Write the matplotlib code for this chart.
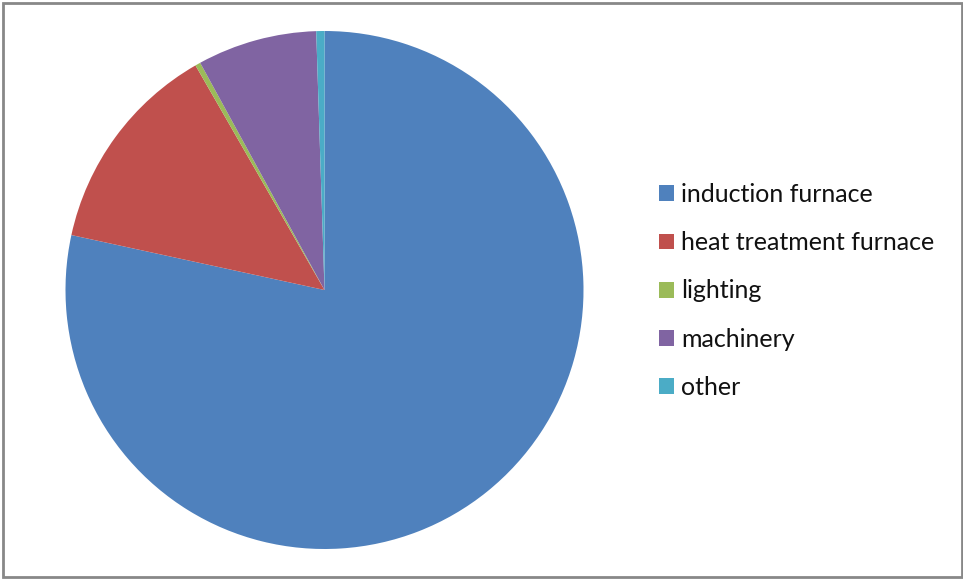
import matplotlib
matplotlib.use("Agg")
import matplotlib.pyplot as plt
from matplotlib.patches import Rectangle

categories = ["induction furnace", "heat treatment furnace", "lighting", "machinery", "other"]
values = [78.41, 13.30, 0.33, 7.46, 0.51]
colors = ["#4F81BD", "#C0504D", "#9BBB59", "#8064A2", "#4BACC6"]

W, H = 963, 579
fig = plt.figure(figsize=(W / 100, H / 100), dpi=100)
fig.patch.set_facecolor("white")

cx, cy, r = 324.5, 290, 259
ax = fig.add_axes([(cx - r) / W, (H - cy - r) / H, 2 * r / W, 2 * r / H])
wedges, _ = ax.pie(values, colors=colors, startangle=90, counterclock=False,
                   radius=1, wedgeprops=dict(linewidth=0))
ax.set_xlim(-1, 1)
ax.set_ylim(-1, 1)
ax.set_aspect("equal")
ax.axis("off")

leg = fig.legend(wedges, categories, loc="upper left",
                 bbox_to_anchor=(659 / W, 1 - 183 / H),
                 frameon=False, prop={"family": "Lato", "size": 18},
                 handlelength=0.6, handleheight=0.6, handletextpad=0.28,
                 labelspacing=1.01, borderpad=0, borderaxespad=0)
for t in leg.get_texts():
    t.set_color("#111111")

fig.add_artist(Rectangle((2.5 / W, 2.5 / H), 959.5 / W, 574 / H, transform=fig.transFigure,
                         fill=False, edgecolor="#888888", linewidth=2))

fig.savefig("out.png", dpi=100)
